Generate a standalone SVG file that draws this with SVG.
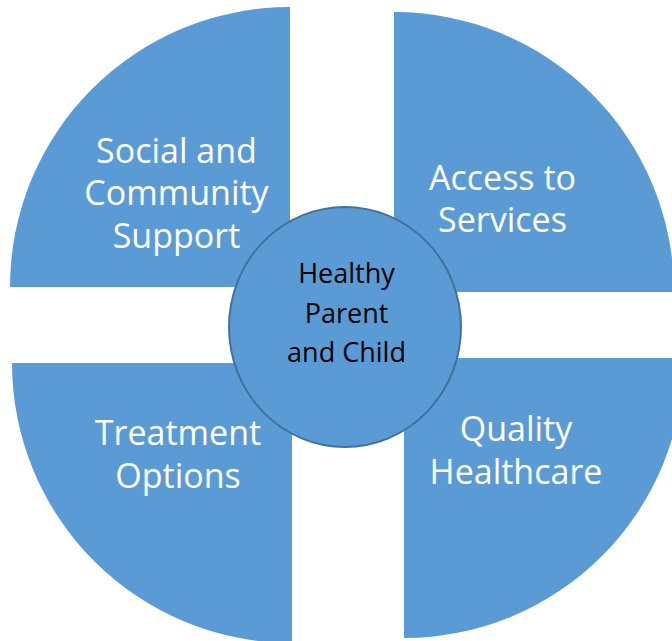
<svg xmlns="http://www.w3.org/2000/svg" width="672" height="641" viewBox="0 0 672 641">
<style>
.q{fill:#5B9BD5;}
.qt{font-family:"Open Sans","Liberation Sans",sans-serif;font-size:34px;fill:#FFFFFF;text-anchor:middle;}
.ct{font-family:"Open Sans","Liberation Sans",sans-serif;font-size:27px;fill:#000000;text-anchor:middle;}
</style>
<rect width="672" height="641" fill="#FFFFFF"/>
<g id="social">
<path class="q" d="M290,287 L10,287 A280,280 0 0 1 290,7 Z"/>
<text class="qt"><tspan x="176.5" y="163">Social and</tspan><tspan x="176.5" y="205">Community</tspan><tspan x="176.5" y="248">Support</tspan></text>
</g>
<g id="access">
<path class="q" d="M394,292 L394,12 A280,280 0 0 1 674,292 Z"/>
<text class="qt"><tspan x="502.5" y="190">Access to</tspan><tspan x="502.5" y="232">Services</tspan></text>
</g>
<g id="treatment">
<path class="q" d="M292,363 L292,643 A280,280 0 0 1 12,363 Z"/>
<text class="qt"><tspan x="178" y="445">Treatment</tspan><tspan x="178" y="488">Options</tspan></text>
</g>
<g id="quality">
<path class="q" d="M404,358 L684,358 A280,280 0 0 1 404,638 Z"/>
<text class="qt"><tspan x="516" y="441">Quality</tspan><tspan x="516" y="484">Healthcare</tspan></text>
</g>
<g id="center">
<ellipse cx="345" cy="327" rx="116" ry="120" fill="#5B9BD5" stroke="#41719C" stroke-width="2"/>
<text class="ct"><tspan x="346.5" y="283">Healthy</tspan><tspan x="346.5" y="323">Parent</tspan><tspan x="346.5" y="362">and Child</tspan></text>
</g>
<g id="connectors"/>
</svg>
